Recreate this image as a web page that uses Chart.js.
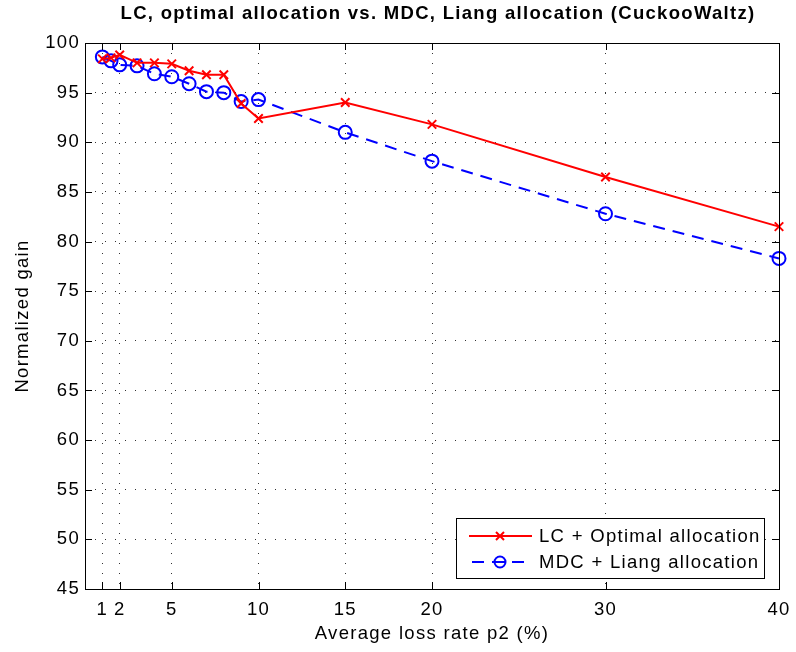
<!DOCTYPE html>
<html>
<head>
<meta charset="utf-8">
<script src="https://cdn.jsdelivr.net/npm/chart.js@4.4.1/dist/chart.umd.min.js"></script>
<style>
  html, body { margin: 0; padding: 0; background: #fff; }
  #wrap { width: 796px; height: 652px; }
</style>
</head>
<body>
<div id="wrap"><canvas id="gainChart" width="796" height="652"></canvas></div>
<script>
// Dữ liệu
const lossRates = [1, 1.5, 2, 3, 4, 5, 6, 7, 8, 9, 10, 15, 20, 30, 40];
const lcGain = [98.4, 98.5, 98.8, 98.0, 98.0, 97.9, 97.2, 96.8, 96.8, 93.9, 92.4, 94.0, 91.8, 86.5, 81.5];
const mdcGain = [98.6, 98.2, 97.8, 97.7, 96.9, 96.6, 95.9, 95.1, 95.0, 94.1, 94.3, 91.0, 88.1, 82.8, 78.3];
const xTicks = [1, 2, 5, 10, 15, 20, 30, 40];
const seriesNames = ['LC + Optimal allocation', 'MDC + Liang allocation'];
const titleText = 'LC, optimal allocation vs. MDC, Liang allocation (CuckooWaltz)';

const FONT = "'Liberation Sans', Arial, Helvetica, sans-serif";
const SPACING = '1.3px';
Chart.defaults.font.family = FONT;
Chart.defaults.color = '#000';

function toPoints(ys) {
    return lossRates.map((x, i) => ({ x: x, y: ys[i] }));
}

// Chữ giãn cách giống MATLAB
const letterSpacing = {
    id: 'letterSpacing',
    beforeUpdate(chart) { chart.ctx.letterSpacing = SPACING; },
    beforeLayout(chart) { chart.ctx.letterSpacing = SPACING; },
    beforeDraw(chart) { chart.ctx.letterSpacing = SPACING; }
};

// Khung, vạch chia hướng vào trong, tiêu đề và chú thích kiểu MATLAB
const matlabFrame = {
    id: 'matlabFrame',
    afterDraw(chart) {
        const ctx = chart.ctx;
        const a = chart.chartArea;
        const xs = chart.scales.x;
        const ys = chart.scales.y;
        const tick = 7;
        ctx.save();
        ctx.letterSpacing = SPACING;
        ctx.strokeStyle = '#000';
        ctx.lineWidth = 1;
        ctx.setLineDash([]);
        ctx.strokeRect(a.left + 0.5, a.top + 0.5, a.right - a.left, a.bottom - a.top);
        ctx.beginPath();
        xs.ticks.forEach(t => {
            const px = Math.round(xs.getPixelForValue(t.value)) + 0.5;
            ctx.moveTo(px, a.bottom); ctx.lineTo(px, a.bottom - tick);
            ctx.moveTo(px, a.top); ctx.lineTo(px, a.top + tick);
        });
        ys.ticks.forEach(t => {
            const py = Math.round(ys.getPixelForValue(t.value)) + 0.5;
            ctx.moveTo(a.left, py); ctx.lineTo(a.left + tick, py);
            ctx.moveTo(a.right, py); ctx.lineTo(a.right - tick, py);
        });
        ctx.stroke();

        // Tiêu đề
        ctx.fillStyle = '#000';
        ctx.font = 'bold 18.5px ' + FONT;
        ctx.textAlign = 'center';
        ctx.textBaseline = 'middle';
        ctx.fillText(titleText, 438, 14);

        // Chú thích
        const bx = 456, by = 518, bw = 308, bh = 60;
        ctx.fillStyle = '#fff';
        ctx.fillRect(bx, by, bw, bh);
        ctx.strokeStyle = '#000';
        ctx.lineWidth = 1;
        ctx.strokeRect(bx + 0.5, by + 0.5, bw, bh);
        chart.data.datasets.forEach((ds, i) => {
            const rowY = by + 18 + i * 26;
            ctx.strokeStyle = ds.borderColor;
            ctx.lineWidth = ds.borderWidth;
            ctx.setLineDash(ds.borderDash || []);
            ctx.lineDashOffset = ds.borderDash ? -3 : 0;
            ctx.beginPath();
            ctx.moveTo(469, rowY); ctx.lineTo(532, rowY);
            ctx.stroke();
            ctx.setLineDash([]);
            ctx.lineWidth = ds.pointBorderWidth;
            ctx.beginPath();
            if (ds.pointStyle === 'crossRot') {
                const r = 4;
                ctx.moveTo(500 - r, rowY - r); ctx.lineTo(500 + r, rowY + r);
                ctx.moveTo(500 - r, rowY + r); ctx.lineTo(500 + r, rowY - r);
            } else {
                ctx.arc(500, rowY, 5.5, 0, Math.PI * 2);
                ctx.moveTo(494, rowY); ctx.lineTo(506, rowY);
            }
            ctx.stroke();
            ctx.fillStyle = '#000';
            ctx.font = '18.5px ' + FONT;
            ctx.textAlign = 'left';
            ctx.textBaseline = 'middle';
            ctx.fillText(ds.label, 539, rowY + 1);
        });
        ctx.restore();
    }
};

const config = {
    type: 'line',
    data: {
        datasets: [
            {
                label: seriesNames[0],
                data: toPoints(lcGain),
                borderColor: '#ff0000',
                backgroundColor: '#ff0000',
                borderWidth: 2,
                pointStyle: 'crossRot',
                pointRadius: 6,
                pointBorderWidth: 2,
                pointBorderColor: '#ff0000',
                tension: 0,
                clip: false
            },
            {
                label: seriesNames[1],
                data: toPoints(mdcGain),
                borderColor: '#0000ff',
                backgroundColor: 'rgba(0,0,0,0)',
                borderWidth: 2,
                borderDash: [12, 8],
                pointStyle: 'circle',
                pointRadius: 6.5,
                pointBorderWidth: 2,
                pointBorderColor: '#0000ff',
                pointBackgroundColor: 'rgba(0,0,0,0)',
                tension: 0,
                clip: false
            }
        ]
    },
    options: {
        responsive: false,
        animation: false,
        events: [],
        layout: { padding: { top: 43, right: 17, left: 0, bottom: 0 } },
        scales: {
            x: {
                type: 'linear',
                min: 0,
                max: 40,
                afterBuildTicks: (scale) => { scale.ticks = xTicks.map(v => ({ value: v })); },
                afterFit: (scale) => {
                    scale.height = 63;
                    scale.paddingLeft = 0;
                    scale.paddingRight = 0;
                },
                ticks: {
                    autoSkip: false,
                    maxRotation: 0,
                    padding: 10,
                    color: '#000',
                    font: { size: 18.5 }
                },
                grid: {
                    drawTicks: false,
                    color: 'rgba(0,0,0,0.8)',
                    lineWidth: 1
                },
                border: { display: false, dash: [1, 9] },
                title: {
                    display: true,
                    text: 'Average loss rate p2 (%)',
                    color: '#000',
                    font: { size: 18.5 },
                    padding: { top: 0, bottom: 7 }
                }
            },
            y: {
                min: 45,
                max: 100,
                afterFit: (scale) => {
                    scale.width = 85;
                    scale.paddingTop = 0;
                    scale.paddingBottom = 0;
                },
                ticks: {
                    stepSize: 5,
                    padding: 5,
                    color: '#000',
                    font: { size: 18.5 }
                },
                grid: {
                    drawTicks: false,
                    color: 'rgba(0,0,0,0.8)',
                    lineWidth: 1
                },
                border: { display: false, dash: [1, 9] },
                title: {
                    display: true,
                    text: 'Normalized gain',
                    color: '#000',
                    font: { size: 18.5 },
                    padding: { top: 12, bottom: 0 }
                }
            }
        },
        plugins: {
            legend: { display: false },
            title: { display: false },
            tooltip: { enabled: false }
        }
    },
    plugins: [letterSpacing, matlabFrame]
};

const gainChart = new Chart(document.getElementById('gainChart'), config);
</script>
</body>
</html>
